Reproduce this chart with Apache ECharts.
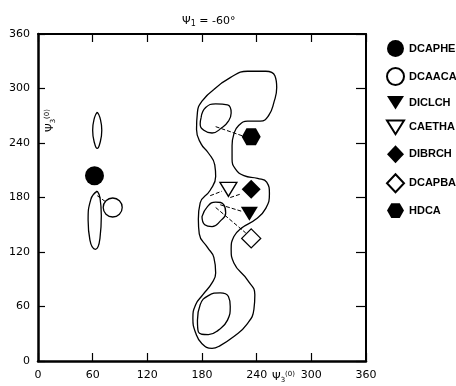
<!DOCTYPE html>
<html><head><meta charset="utf-8">
<script src="https://cdn.jsdelivr.net/npm/echarts@6/dist/echarts.min.js"></script>
<style>html,body{margin:0;padding:0;background:#fff}#c{width:456px;height:386px}</style>
</head><body><div id="c"></div>
<script>
// ---- data (degrees) ----
const axisTicks = [0, 60, 120, 180, 240, 300, 360];
const seriesNames = ['DCAPHE', 'DCAACA', 'DICLCH', 'CAETHA', 'DIBRCH', 'DCAPBA', 'HDCA'];
const ptDCAPHE = [[62, 204]];
const ptDCAACA = [[82, 169]];
const ptDICLCH = [[232, 162]];
const ptCAETHA = [[209, 189]];
const ptDIBRCH = [[234, 189]];
const ptDCAPBA = [[234, 135]];
const ptHDCA   = [[234, 247]];

// contour outlines
const outerContour = [[193,299],[211,312],[230,319],[250,319],[260,314],[262,301],[259,285],[253,270],[244,264],[230,264],[220,259],[215,250],[213,237],[213,222],[217,211],[226,204],[241,201],[251,197],[254,184],[250,168],[239,156],[223,146],[215,137],[212,123],[215,108],[230,89],[238,73],[237,57],[229,40],[215,27],[200,17],[191,14],[180,19],[173,31],[170,47],[173,62],[181,73],[191,86],[195,97],[193,114],[186,125],[177,140],[176,156],[178,174],[189,188],[195,203],[194,216],[187,229],[179,239],[174,255],[175,274],[180,286],[193,299]];
const innerUpper = [[179,268],[184,279],[195,283],[208,282],[212,273],[209,264],[202,257],[191,251],[182,254],[178,261],[179,268]];
const innerMiddle = [[180,159],[186,170],[195,175],[204,172],[206,163],[200,154],[191,148],[183,150],[180,159]];
const innerLower = [[175,45],[178,62],[187,72],[200,75],[209,71],[211,60],[208,45],[198,34],[187,29],[176,32],[175,45]];
const leftUpper = [[65,274],[68,268],[70,254],[68,240],[65,234],[62,240],[60,254],[62,268],[65,274]];
const leftLower = [[65,187],[68,180],[69.5,160],[68,135],[63,123],[57,133],[55,155],[58,178],[65,187]];

// connectors (marker -> region)
const linkDCAACA = [[65,182],[76,174]];
const linkHDCA   = [[195,258],[224,248]];
const linkCAETHA = [[189,182],[202,187]];
const linkDIBRCH = [[211,180],[223,184]];
const linkDICLCH = [[200,172],[223,165]];
const linkDCAPBA = [[195,169],[228,141]];

const HEX = 'path://M1,0 L3,0 L4,1.732 L3,3.464 L1,3.464 L0,1.732 Z';
const TRI_DOWN = 'path://M0,0 L2,0 L1,1.6 Z';

const filled = {color: '#000', opacity: 1};
const open = {color: '#fff', borderColor: '#000', borderWidth: 1.3, opacity: 1};

function contour(d) {
  return {type: 'line', data: d, smooth: 0.5, symbol: 'none', silent: true, z: 2,
          lineStyle: {color: '#000', width: 1.3}};
}
function link(d) {
  return {type: 'line', data: d, symbol: 'none', silent: true, z: 2,
          lineStyle: {color: '#000', width: 1, type: [4, 2]}};
}
function pts(name, d, symbol, size, style) {
  return {type: 'scatter', name: name, data: d, symbol: symbol, symbolSize: size,
          itemStyle: style, z: 5};
}

const chart = echarts.init(document.getElementById('c'));
const axisCommon = {min: 0, max: 360, interval: 60, splitLine: {show: false}};
const nameRich = {
  p: {fontSize: 11, fontFamily: 'DejaVu Sans', fill: '#000'},
  s: {fontSize: 7, fontFamily: 'DejaVu Sans', fill: '#000', padding: [7,0,0,0]},
  u: {fontSize: 7, fontFamily: 'DejaVu Sans', fill: '#000', padding: [0,0,6,0]}
};
chart.setOption({
  animation: false,
  backgroundColor: '#fff',
  title: {
    text: '{p|Ψ}{s|1}{p| = -60°}',
    left: 177, top: 9,
    textStyle: {fontWeight: 'normal', rich: {
      p: {fontSize: 11, fontWeight: 'normal', fontFamily: 'DejaVu Sans', color: '#000'},
      s: {fontSize: 8, fontWeight: 'normal', fontFamily: 'DejaVu Sans', color: '#000', verticalAlign: 'bottom', padding: [6,0,0,0]}
    }}
  },
  grid: {left: 38, top: 34, width: 328, height: 327, containLabel: false},
  xAxis: [
    Object.assign({type: 'value', position: 'bottom',
      axisLine: {onZero: false, lineStyle: {color: '#000', width: 2.5}},
      axisTick: {inside: true, length: 8, lineStyle: {color: '#000', width: 1.2}},
      axisLabel: {margin: 9, fontSize: 11, color: '#000', fontFamily: 'DejaVu Sans'}}, axisCommon),
    Object.assign({type: 'value', position: 'top',
      axisLine: {onZero: false, lineStyle: {color: '#000', width: 2}},
      axisTick: {inside: true, length: 8, lineStyle: {color: '#000', width: 1.2}},
      axisLabel: {show: false}}, axisCommon)
  ],
  yAxis: [
    Object.assign({type: 'value', position: 'left',
      axisLine: {onZero: false, lineStyle: {color: '#000', width: 2.5}},
      axisTick: {inside: true, length: 7, lineStyle: {color: '#000', width: 1.2}},
      axisLabel: {margin: 8, fontSize: 11, color: '#000', fontFamily: 'DejaVu Sans'}}, axisCommon),
    Object.assign({type: 'value', position: 'right',
      axisLine: {onZero: false, lineStyle: {color: '#000', width: 2}},
      axisTick: {inside: true, length: 10, lineStyle: {color: '#000', width: 1.2}},
      axisLabel: {show: false}}, axisCommon)
  ],
  legend: {
    orient: 'vertical', left: 381, top: 35, itemWidth: 17, itemHeight: 18, itemGap: 10,
    textStyle: {fontSize: 11, fontWeight: 'bold', color: '#000', fontFamily: 'Liberation Sans'},
    data: seriesNames
  },
  graphic: [
    {type: 'text', x: 272, y: 370, silent: true,
     style: {text: '{p|Ψ}{s|3}{u|(0)}', rich: nameRich}},
    {type: 'text', x: 43, y: 132, rotation: Math.PI / 2, silent: true,
     style: {text: '{p|Ψ}{s|3}{u|(0)}', rich: nameRich}}
  ],
  series: [
    contour(outerContour), contour(innerUpper), contour(innerMiddle), contour(innerLower),
    contour(leftUpper), contour(leftLower),
    link(linkDCAACA), link(linkHDCA), link(linkCAETHA), link(linkDIBRCH), link(linkDICLCH), link(linkDCAPBA),
    pts(seriesNames[0], ptDCAPHE, 'circle', 19, filled),
    pts(seriesNames[1], ptDCAACA, 'circle', 19, open),
    pts(seriesNames[2], ptDICLCH, TRI_DOWN, [17, 14], filled),
    pts(seriesNames[3], ptCAETHA, TRI_DOWN, [17, 14], open),
    pts(seriesNames[4], ptDIBRCH, 'diamond', [19, 19], filled),
    pts(seriesNames[5], ptDCAPBA, 'diamond', [19, 19], open),
    pts(seriesNames[6], ptHDCA, HEX, [19, 17], filled)
  ]
});
</script>
</body></html>
